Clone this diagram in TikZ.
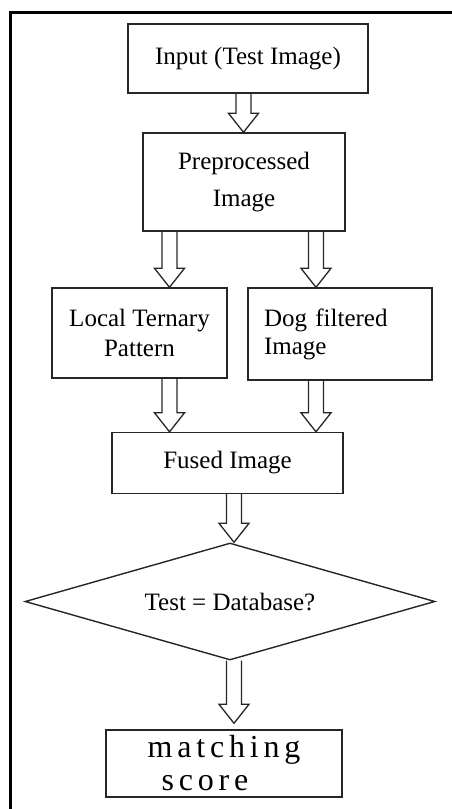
\documentclass[tikz,border=0pt]{standalone}
\usepackage{fontspec}
\setmainfont{Liberation Serif}
\newfontfamily\scorefont[LetterSpace=15]{Liberation Serif}
\usetikzlibrary{shapes.geometric,calc}

\tikzset{
  stage/.style={draw=black!85,line width=1.4pt,fill=white,inner sep=0pt,
    font=\fontsize{25}{30}\selectfont,align=center},
  blockarrow/.style={draw=black!85,line width=1.3pt,
    to path={let \p1=(\tikztostart),\p2=(\tikztotarget) in
      (\x1-7.5pt,\y1) -- (\x1-7.5pt,\y2+19pt) -- (\x1-15pt,\y2+19pt)
      -- (\x1,\y2) -- (\x1+15pt,\y2+19pt) -- (\x1+7.5pt,\y2+19pt)
      -- (\x1+7.5pt,\y1)}},
}

\begin{document}
\begin{tikzpicture}[x=1pt,y=-1pt]
  \useasboundingbox (0,0) rectangle (452,809);

  % frame round the figure
  \draw[line width=3pt] (452,12) -- (10.5,12) -- (10.5,809);

  \node[stage,minimum width=240pt,minimum height=69pt] (input) at (248,58.5) {Input (Test Image)};
  \node[stage,minimum width=202pt,minimum height=98pt,font=\fontsize{25}{37}\selectfont] (pre) at (244,182) {Preprocessed\\Image};
  \node[stage,minimum width=175pt,minimum height=90pt] (ltp) at (139.5,333) {Local Ternary\\Pattern};
  \node[stage,minimum width=184pt,minimum height=92pt,text width=152pt,align=left,font=\fontsize{25}{28}\selectfont] (dog) at (340,334) {Dog filtered\\Image};
  \node[stage,minimum width=231pt,minimum height=61pt] (fused) at (227.5,463) {Fused Image};
  \node[stage,diamond,aspect=3.5,minimum width=410pt,minimum height=117pt] (test) at (230,601.5) {Test = Database?};
  \node[stage,minimum width=236pt,minimum height=67pt,align=left,font=\scorefont\fontsize{32}{33}\selectfont] (score) at (224,763.5) {matching\\\hspace*{14pt}score};

  \draw[blockarrow] ([xshift=-4.5pt]input.south) to (pre.north);
  \draw[blockarrow] ([xshift=-74.5pt]pre.south) to (ltp.north);
  \draw[blockarrow] ([xshift=72pt]pre.south) to (dog.north);
  \draw[blockarrow] ([xshift=30pt]ltp.south) to (fused.north);
  \draw[blockarrow] ([xshift=-24pt]dog.south) to (fused.north);
  \draw[blockarrow] ([xshift=6.5pt]fused.south) to (test.north);
  \draw[blockarrow] ([xshift=4pt]test.south) to ([yshift=6pt]score.north);
\end{tikzpicture}
\end{document}
